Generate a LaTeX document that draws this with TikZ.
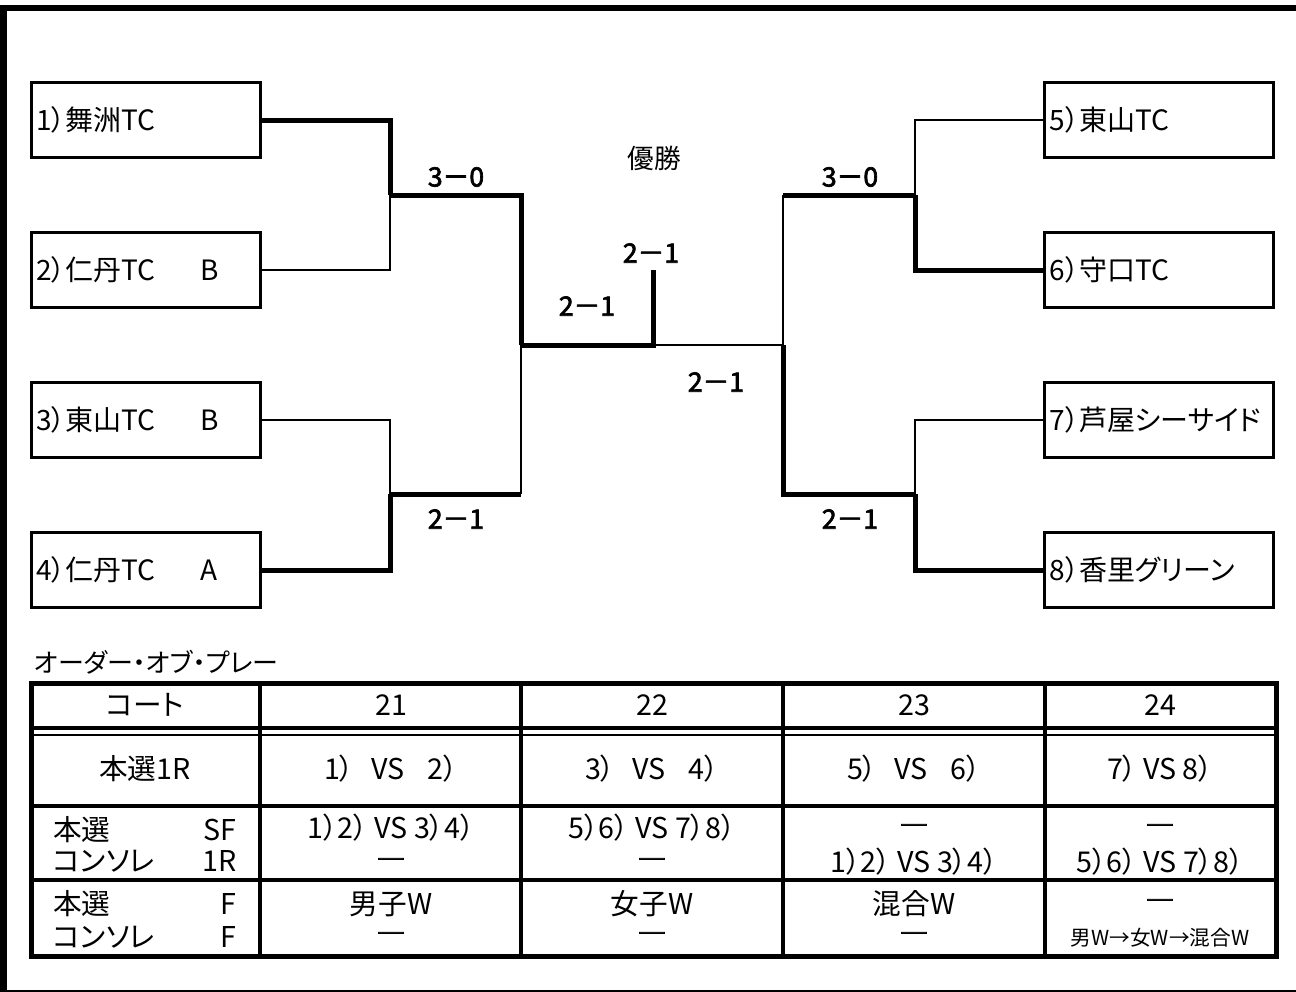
\documentclass[tikz,border=0pt]{standalone}
\usepackage{fontspec}
\setmainfont{Noto Sans CJK JP}[RawFeature=+palt, AutoFakeBold=2.5]
\newfontfamily\jpfull{Noto Sans CJK JP}[AutoFakeBold=2.5]

\tikzset{
  team/.style={draw, line width=2.25pt, minimum width=171.75pt, minimum height=56.25pt,
    text width=164pt, align=left, inner xsep=3pt, font=\fontsize{21}{24}\selectfont},
  win/.style={line width=3.75pt},
  lose/.style={line width=1.9pt},
  score/.style={font=\jpfull\fontsize{20}{22}\selectfont\bfseries},
  cell/.style={inner sep=0pt, font=\fontsize{21.5}{24}\selectfont},
  nil/.style={inner sep=0pt, text height=0.6em, text depth=0pt,
    font=\jpfull\fontsize{22}{24}\selectfont\bfseries},
  small/.style={inner sep=0pt, font=\fontsize{15.5}{18}\selectfont},
}

\begin{document}
\begin{tikzpicture}[x=0.75pt,y=0.75pt,yscale=-1,xscale=1]
\path[use as bounding box] (0,0) rectangle (1296,992);

%Frame
\draw [line width=4.5pt]   (3.5,992) -- (3.5,8) -- (1296,8) ;
\draw [line width=1.5pt]   (0,990.5) -- (1296,990.5) ;

% Team Boxes
\node [team] (t1) at (145.5,120) {1）舞洲TC};
\node [team] (t2) at (145.5,270) {2）仁丹TC\hspace{1.6em}B};
\node [team] (t3) at (145.5,420) {3）東山TC\hspace{1.6em}B};
\node [team] (t4) at (145.5,570) {4）仁丹TC\hspace{1.6em}A};
\node [team] (t5) at (1159,120) {5）東山TC};
\node [team] (t6) at (1159,270) {6）守口TC};
\node [team] (t7) at (1159,420) {7）芦屋シーサイド};
\node [team] (t8) at (1159,570) {8）香里グリーン};

% Junctions
\coordinate (q1) at (390,195);
\coordinate (q2) at (390,494);
\coordinate (q3) at (915,195);
\coordinate (q4) at (915,494);
\coordinate (a1) at (521,195);
\coordinate (a2) at (521,494);
\coordinate (b1) at (783,195);
\coordinate (b2) at (783,494);
\coordinate (s1) at (521,345);
\coordinate (s2) at (783,345);
\coordinate (f) at (653,345);
\coordinate (ftop) at (653,270);

%Straight Lines - left half
\draw [win]    (t1.east) -| (q1) ;
\draw [lose]   (t2.east) -| (q1) ;
\draw [lose]   (t3.east) -| (q2) ;
\draw [win]    (t4.east) -| (q2) ;
\draw [win]    (q1) -- (a1) -- (s1) ;
\draw [win]    (q2) -- (a2) ;
\draw [lose]   (a2) -- (s1) ;

%Straight Lines - right half
\draw [lose]   (t5.west) -| (q3) ;
\draw [win]    (t6.west) -| (q3) ;
\draw [lose]   (t7.west) -| (q4) ;
\draw [win]    (t8.west) -| (q4) ;
\draw [win]    (q3) -- (b1) ;
\draw [lose]   (b1) -- (s2) ;
\draw [win]    (q4) -- (b2) -- (s2) ;

%Straight Lines - final
\draw [win]    (s1) -- (f) -- (ftop) ;
\draw [lose]   (f) -- (s2) ;

% Text Node
\node (champ) at (654,158) {\fontsize{20}{22}\selectfont 優勝};
% Score Nodes
\node [score] (sc1) at (456,177) {3－0};
\node [score] (sc2) at (456,519) {2－1};
\node [score] (sc3) at (587,306) {2－1};
\node [score] (sc4) at (651,253) {2－1};
\node [score] (sc5) at (716,382) {2－1};
\node [score] (sc6) at (850,177) {3－0};
\node [score] (sc7) at (850,519) {2－1};

% Text Node
\node [anchor=west, inner sep=0pt] (title) at (34,662) {\fontsize{19.5}{22}\selectfont オーダー・オブ・プレー};

%Table lines
\draw [line width=3pt]   (260,683) -- (260,956) ;
\draw [line width=3pt]   (521,683) -- (521,956) ;
\draw [line width=3pt]   (783,683) -- (783,956) ;
\draw [line width=3pt]   (1045,683) -- (1045,956) ;
\draw [line width=2.6pt] (31,728) -- (1276,728) ;
\draw [line width=1.2pt] (31,735) -- (1276,735) ;
\draw [line width=3pt]   (31,806) -- (1276,806) ;
\draw [line width=3pt]   (31,880) -- (1276,880) ;
\draw [line width=3.75pt] (31,683) rectangle (1276,956) ;

% Header row
\node [cell] (h0) at (145,705) {コート};
\node [cell] (h1) at (391,705) {21};
\node [cell] (h2) at (652,705) {22};
\node [cell] (h3) at (914,705) {23};
\node [cell] (h4) at (1160,705) {24};

% Row 1R
\node [cell] (r1c0) at (145,769) {本選1R};
\node [cell] (r1c1) at (391,769) {1）\hspace{0.6em}VS\hspace{0.8em}2）};
\node [cell] (r1c2) at (652,769) {3）\hspace{0.6em}VS\hspace{0.8em}4）};
\node [cell] (r1c3) at (914,769) {5）\hspace{0.6em}VS\hspace{0.8em}6）};
\node [cell] (r1c4) at (1160,769) {7）\hspace{0.2em}VS 8）};

% Row SF / consolation 1R
\node [cell, anchor=west] (r2a) at (53,830) {本選};
\node [cell, anchor=east] (r2b) at (237,830) {SF};
\node [cell, anchor=west] (r3a) at (53,861) {コンソレ};
\node [cell, anchor=east] (r3b) at (237,861) {1R};
\node [cell] (r2c1) at (391,828) {1）2） VS 3）4）};
\node [nil]  (r3c1) at (391,866) {―};
\node [cell] (r2c2) at (652,828) {5）6） VS 7）8）};
\node [nil]  (r3c2) at (652,866) {―};
\node [nil]  (r2c3) at (914,832) {―};
\node [cell] (r3c3) at (914,862) {1）2） VS 3）4）};
\node [nil]  (r2c4) at (1160,832) {―};
\node [cell] (r3c4) at (1160,862) {5）6） VS 7）8）};

% Row F
\node [cell, anchor=west] (r4a) at (53,904) {本選};
\node [cell, anchor=east] (r4b) at (237,904) {F};
\node [cell, anchor=west] (r5a) at (53,937) {コンソレ};
\node [cell, anchor=east] (r5b) at (237,937) {F};
\node [cell] (r4c1) at (391,904) {男子W};
\node [nil]  (r5c1) at (391,940) {―};
\node [cell] (r4c2) at (652,904) {女子W};
\node [nil]  (r5c2) at (652,940) {―};
\node [cell] (r4c3) at (914,904) {混合W};
\node [nil]  (r5c3) at (914,940) {―};
\node [nil]  (r4c4) at (1160,907) {―};
\node [small] (r5c4) at (1160,938) {男W→女W→混合W};

\end{tikzpicture}
\end{document}
